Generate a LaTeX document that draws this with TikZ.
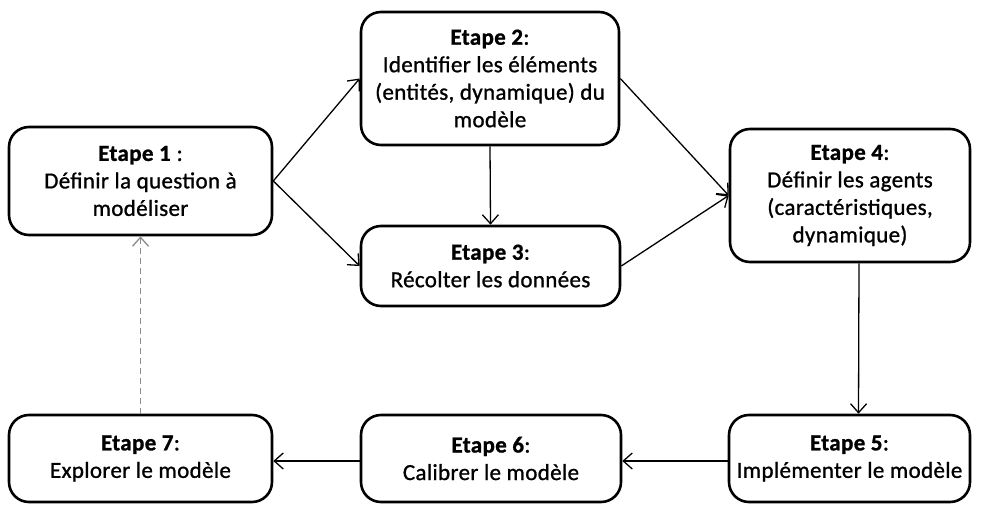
\documentclass[tikz,border=0pt]{standalone}
\usepackage{fontspec}
\setmainfont{Carlito}[UprightFeatures={FakeBold=1.0}, BoldFeatures={FakeBold=1.0}, LetterSpace=1.5]
\usetikzlibrary{arrows.meta}
\begin{document}
\begin{tikzpicture}[x=1pt,y=-1pt,
  stepbox/.style={draw, line width=2.6pt, rounded corners=20pt, align=center,
    font=\fontsize{23}{27.5}\selectfont, inner sep=0pt},
  conn/.style={line width=1.3pt, -{Straight Barb[length=9pt,width=16pt,line width=1.3pt]}},
  back/.style={line width=1.3pt, draw=black!45, dash pattern=on 6pt off 4pt,
    -{Straight Barb[length=9pt,width=16pt,line width=1.3pt]}}]
\useasboundingbox[fill=white] (0,0) rectangle (984,505);
\node[stepbox, minimum width=263pt, minimum height=108pt] (b1) at (140.5,181)
  {\textbf{Etape 1} :\\Définir la question à\\modéliser};
\node[stepbox, minimum width=258pt, minimum height=133pt] (b2) at (490,78.5)
  {\textbf{Etape 2}:\\Identifier les éléments\\(entités, dynamique) du\\modèle};
\node[stepbox, minimum width=259pt, minimum height=80pt] (b3) at (490.5,266)
  {\textbf{Etape 3}:\\Récolter les données};
\node[stepbox, minimum width=240pt, minimum height=133pt] (b4) at (850,195.5)
  {\textbf{Etape 4}:\\Définir les agents\\(caractéristiques,\\dynamique)};
\node[stepbox, minimum width=241pt, minimum height=87pt] (b5) at (849.5,458.5)
  {\textbf{Etape 5}:\\Implémenter le modèle};
\node[stepbox, minimum width=260pt, minimum height=87pt] (b6) at (491,458.5)
  {\textbf{Etape 6}:\\Calibrer le modèle};
\node[stepbox, minimum width=263pt, minimum height=87pt] (b7) at (140.5,458.5)
  {\textbf{Etape 7}:\\Explorer le modèle};
\draw[conn] (b1.east) -- (b2.west);
\draw[conn] (b1.east) -- (b3.west);
\draw[conn] (b2.south) -- (b3.north);
\draw[conn] (b2.east) -- (b4.west);
\draw[conn] (b3.east) -- (b4.west);
\draw[conn] ([xshift=9pt]b4.south) -- ([xshift=9pt]b5.north);
\draw[conn] ([yshift=-2.5pt]b5.west) -- ([yshift=-2.5pt]b6.east);
\draw[conn] ([yshift=-2.5pt]b6.west) -- ([yshift=-2.5pt]b7.east);
\draw[back] (b7.north) -- (b1.south);
\end{tikzpicture}
\end{document}
